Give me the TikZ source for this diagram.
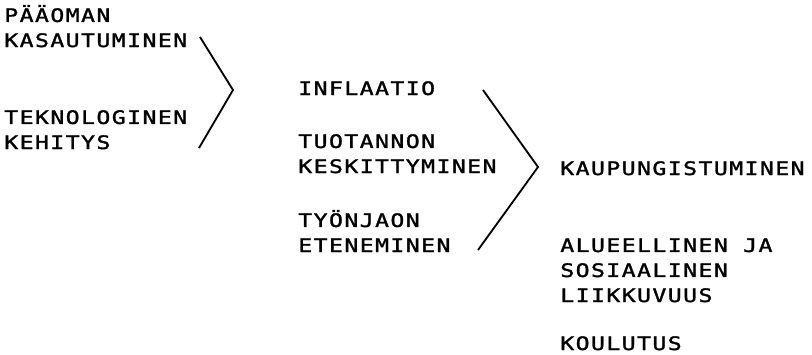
\documentclass[tikz,border=0pt]{standalone}
\usepackage{fontspec}
\newfontfamily\plotfont[LetterSpace=7.5,FakeStretch=1.25,FakeBold=1.5]{DejaVu Sans Mono}

\begin{document}
\begin{tikzpicture}[
  texte/.style={anchor=base west, align=left, inner sep=0pt,
    font=\plotfont\fontsize{13.2}{17.8}\selectfont},
  trait/.style={line width=1.3pt}]

\useasboundingbox (0,0) rectangle (20.3,-8.85);

% Causes
\node[texte] (kasautuminen) at (0.1,-1.175) {PÄÄOMAN\\KASAUTUMINEN};
\node[texte] (kehitys) at (0.1,-3.725) {TEKNOLOGINEN\\KEHITYS};

% Premier chevron
\coordinate (h1) at (5.0,-0.925);
\coordinate (p1) at (5.825,-2.25);
\coordinate (b1) at (4.975,-3.7);
\draw[trait] (h1) -- (p1) -- (b1);

% Colonne du milieu
\node[texte] (inflaatio) at (7.45,-2.375) {INFLAATIO};
\node[texte] (keskittyminen) at (7.45,-4.325) {TUOTANNON\\KESKITTYMINEN};
\node[texte] (eteneminen) at (7.45,-6.3) {TYÖNJAON\\ETENEMINEN};

% Second chevron
\coordinate (h2) at (12.075,-2.25);
\coordinate (p2) at (13.45,-4.175);
\coordinate (b2) at (11.95,-6.25);
\draw[trait] (h2) -- (p2) -- (b2);

% Effets
\node[texte] (kaupungistuminen) at (14.0,-4.375) {KAUPUNGISTUMINEN};
\node[texte] (liikkuvuus) at (14.0,-7.55) {ALUEELLINEN JA\\SOSIAALINEN\\LIIKKUVUUS};
\node[texte] (koulutus) at (14.0,-8.75) {KOULUTUS};

\end{tikzpicture}
\end{document}
